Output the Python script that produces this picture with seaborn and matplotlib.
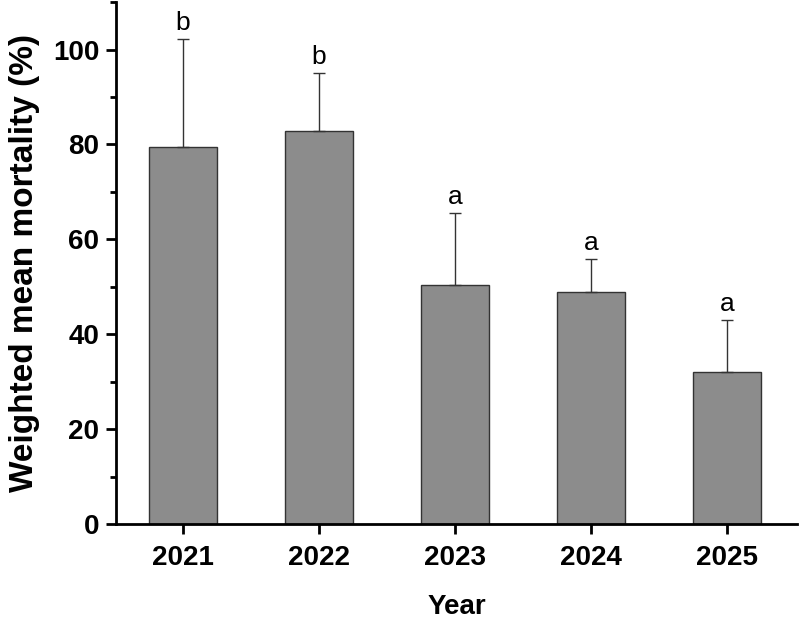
import matplotlib
matplotlib.use('Agg')
import matplotlib.pyplot as plt
import seaborn as sns
import pandas as pd
import numpy as np
from matplotlib.ticker import MultipleLocator

# Données
years = ['2021', '2022', '2023', '2024', '2025']
mortality = [79.4, 82.9, 50.3, 48.8, 32.1]
sd_upper = [22.8, 12.2, 15.2, 7.0, 10.8]
letters = ['b', 'b', 'a', 'a', 'a']

df = pd.DataFrame({'Year': years, 'Mortality': mortality})

sns.set_theme(style='ticks')
plt.rcParams['font.family'] = ['Liberation Sans', 'DejaVu Sans']
plt.rcParams['text.color'] = 'black'
plt.rcParams['axes.labelcolor'] = 'black'
plt.rcParams['xtick.color'] = 'black'
plt.rcParams['ytick.color'] = 'black'

fig = plt.figure(figsize=(8, 6.19), dpi=100)
ax = fig.add_axes([0.145, 0.1535, 0.851, 0.843])

sns.barplot(data=df, x='Year', y='Mortality', color='#8c8c8c', width=0.5,
            edgecolor='#333333', linewidth=1.0, saturation=1, ax=ax)

# Barres d'erreur (vers le haut seulement)
x = np.arange(len(years))
ax.errorbar(x, mortality, yerr=[np.zeros(len(sd_upper)), sd_upper], fmt='none',
            ecolor='#333333', elinewidth=1.0, capsize=4, capthick=1.0, zorder=1)

for xi, m, s, lab in zip(x, mortality, sd_upper, letters):
    ax.annotate(lab, (xi, m + s), xytext=(0, 3), textcoords='offset points',
                ha='center', va='bottom', fontsize=19, color='black')

ax.set_xlim(-0.49, 4.51)
ax.set_ylim(0, 110)
ax.yaxis.set_major_locator(MultipleLocator(20))
ax.yaxis.set_minor_locator(MultipleLocator(10))

for side in ['top', 'right']:
    ax.spines[side].set_visible(False)
for side in ['left', 'bottom']:
    ax.spines[side].set_linewidth(2.0)
    ax.spines[side].set_color('black')

ax.tick_params(axis='both', which='major', length=7, width=2.0, direction='out',
               labelsize=20)
ax.tick_params(axis='x', which='major', pad=8)
ax.tick_params(axis='y', which='major', pad=5)
ax.tick_params(axis='y', which='minor', length=4, width=2.0)
for t in ax.get_xticklabels() + ax.get_yticklabels():
    t.set_fontweight('bold')

ax.set_xlabel('Year', fontsize=20, fontweight='bold', labelpad=17)
ax.set_ylabel('Weighted mean mortality (%)', fontsize=24, fontweight='bold', labelpad=9)

plt.savefig('out.png', dpi=100)
